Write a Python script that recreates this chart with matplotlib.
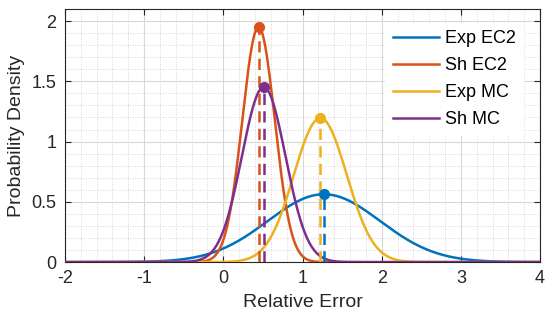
import numpy as np
import matplotlib
matplotlib.use("Agg")
import matplotlib.pyplot as plt
from matplotlib.ticker import MultipleLocator

plt.rcParams['font.family'] = ['Liberation Sans', 'DejaVu Sans']

labels = ["Exp EC2", "Sh EC2", "Exp MC", "Sh MC"]
means = [1.27, 0.445, 1.225, 0.51]
peaks = [0.563, 1.95, 1.195, 1.452]
colors = ["#0072BD", "#D95319", "#EDB120", "#7E2F8E"]

x = np.linspace(-2, 4, 1201)

fig = plt.figure(figsize=(5.5, 3.22), dpi=100)
ax = fig.add_axes([0.118, 0.186, 0.864, 0.786])

for lab, m, p, c in zip(labels, means, peaks, colors):
    sd = 1.0 / (p * np.sqrt(2 * np.pi))
    y = np.exp(-0.5 * ((x - m) / sd) ** 2) / (sd * np.sqrt(2 * np.pi))
    ax.plot(x, y, color=c, lw=1.8, label=lab, zorder=3)

for m, p, c in zip(means, peaks, colors):
    ax.plot([m, m], [0, p], color=c, lw=1.8, ls=(0, (4.5, 2.5)), zorder=3)
    ax.plot([m], [p], 'o', color=c, ms=7, zorder=4)

ax.set_xlim(-2, 4)
ax.set_ylim(0, 2.1)
ax.xaxis.set_minor_locator(MultipleLocator(0.2))
ax.yaxis.set_minor_locator(MultipleLocator(0.1))
ax.set_yticks([0, 0.5, 1, 1.5, 2])
ax.set_yticklabels(["0", "0.5", "1", "1.5", "2"])
ax.set_xticks([-2, -1, 0, 1, 2, 3, 4])
ax.set_xticklabels(["-2", "-1", "0", "1", "2", "3", "4"])

ax.grid(True, which='major', color='#d8d8d8', lw=0.8, zorder=0)
ax.grid(True, which='minor', color='#c8c8c8', lw=0.6, ls=(0, (1, 2)), zorder=0)
ax.set_axisbelow(True)

ax.tick_params(which='both', direction='in', top=True, right=True,
               labelsize=13, colors='#262626', pad=6)
ax.tick_params(which='major', length=4)
ax.tick_params(which='minor', length=0)
for s in ax.spines.values():
    s.set_color('#262626')
    s.set_linewidth(0.8)

ax.set_xlabel("Relative Error", fontsize=14, color='#262626', labelpad=5)
ax.set_ylabel("Probability Density", fontsize=14, color='#262626', labelpad=5)

leg = ax.legend(loc='upper right', bbox_to_anchor=(0.983, 0.98),
                fontsize=13, frameon=True, fancybox=False,
                handlelength=2.6, handletextpad=0.3, labelspacing=0.55,
                borderaxespad=0.5, borderpad=0.4)
leg.get_frame().set_edgecolor('white')
leg.get_frame().set_facecolor('white')
leg.get_frame().set_alpha(1)

fig.savefig("out.png", dpi=100)
